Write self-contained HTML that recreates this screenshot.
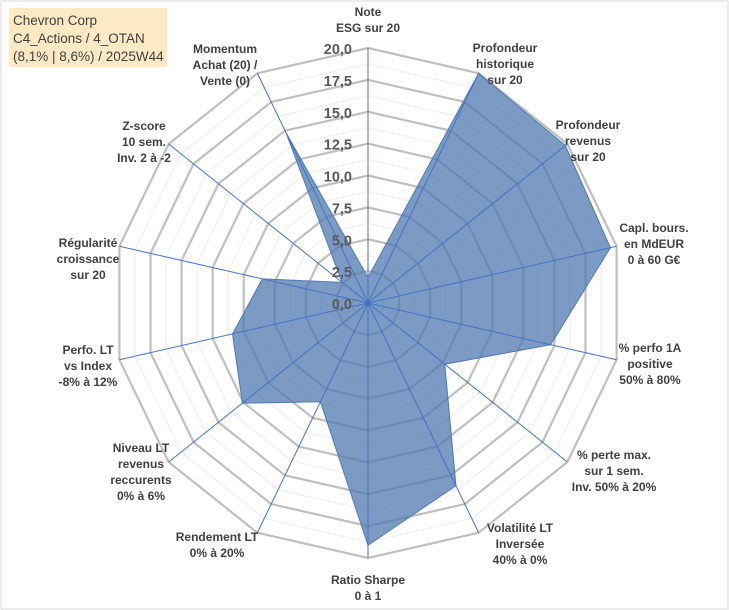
<!DOCTYPE html>
<html><head><meta charset="utf-8"><style>
body{margin:0;background:#fff;}
svg{display:block;font-family:"Liberation Sans",Arial,sans-serif;}
</style></head><body>
<svg id="c" width="729" height="610">
<rect x="1" y="1" width="727" height="608" fill="#fff" stroke="#d9d9d9" stroke-width="1"/>
<g id="grid"></g><g id="series"></g><g id="axes"></g><g id="ticks"></g><g id="labels"></g>
<rect x="9" y="8" width="158" height="59" fill="#fde9c4"/>
<text font-family="Liberation Sans, sans-serif" font-size="13.5" fill="#404040">
<tspan x="13" y="25">Chevron Corp</tspan><tspan x="13" y="43">C4_Actions / 4_OTAN</tspan><tspan x="13" y="61">(8,1% | 8,6%) / 2025W44</tspan></text>
</svg>
<script>
const categories=[["Note","ESG sur 20"],["Profondeur","historique","sur 20"],["Profondeur","revenus","sur 20"],["Capl. bours.","en MdEUR","0 à 60 G€"],["% perfo 1A","positive","50% à 80%"],["% perte max.","sur 1 sem.","Inv. 50% à 20%"],["Volatilité LT","Inversée","40% à 0%"],["Ratio Sharpe","0 à 1"],["Rendement LT","0% à 20%"],["Niveau LT","revenus","reccurents","0% à 6%"],["Perfo. LT","vs Index","-8% à 12%"],["Régularité","croissance","sur 20"],["Z-score","10 sem.","Inv. 2 à -2"],["Momentum","Achat (20) /","Vente (0)"]];
const values=[2,20,19.8,19.5,14.7,7.7,15.9,19,8.6,12.6,10.9,8.5,2.6,14.8];
const tickLabels=["0,0","2,5","5,0","7,5","10,0","12,5","15,0","17,5","20,0"];
const maxV=20;
// label layout (x, first baseline y) — layout only
const labelPos=[[368,16],[505,52],[588,129],[654,232],[650,352],[614,459],[520,532],[368,584],[217,541],[141,452],[88,354],[88,247],[144,130],[225,53]];
const NS="http://www.w3.org/2000/svg";
const cx=368,cy=303,R=255,n=categories.length;
function ang(i){return i*2*Math.PI/n;}
function pt(i,v){const r=v/maxV*R,a=ang(i);return [cx+r*Math.sin(a),cy-r*Math.cos(a)];}
function mk(tag,attrs,parent){const e=document.createElementNS(NS,tag);for(const k in attrs)e.setAttribute(k,attrs[k]);document.getElementById(parent).appendChild(e);return e;}
for(let k=1;k<=16;k++){const v=k*1.25;const pts=categories.map((_,i)=>pt(i,v).join(",")).join(" ");
 const major=k%2===0;
 const g=mk("polygon",{points:pts,fill:"none",stroke:major?"#bfbfbf":"#ececec","stroke-width":major?2.2:1},"grid");
 
 }
const sp=mk("polygon",{points:values.map((v,i)=>pt(i,v).join(",")).join(" "),fill:"rgba(79,122,178,0.75)",stroke:"#4f7ab2","stroke-width":1},"series");


categories.forEach((c,i)=>{const p=pt(i,maxV);const l=mk("line",{x1:cx,y1:cy,x2:p[0],y2:p[1],stroke:"#4472c4","stroke-width":1},"axes");
 
 
 const x=labelPos[i][0],y0=labelPos[i][1],lh=16;
 const t=mk("text",{x:x,y:y0,"text-anchor":"middle","font-size":"12","font-weight":"bold",fill:"#404040"},"labels");
 
 
 c.forEach((ln,j)=>{const ts=document.createElementNS(NS,"tspan");ts.setAttribute("x",x);ts.setAttribute("y",y0+j*lh);ts.textContent=ln;t.appendChild(ts);});
});
tickLabels.forEach((lab,k)=>{const v=k*2.5;const y=cy-v/maxV*R;
 const t=mk("text",{x:cx-16,y:y+6,"text-anchor":"end","font-size":"14.5","font-weight":"bold",fill:"#595959"},"ticks");
 
 
 t.textContent=lab;});
</script>
</body></html>
